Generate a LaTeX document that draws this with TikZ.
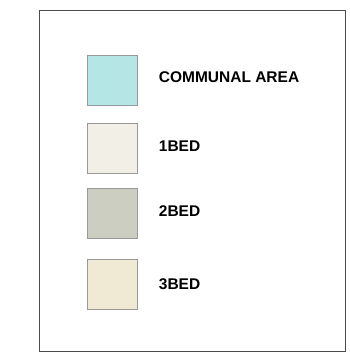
\documentclass[tikz,border=0pt]{standalone}
\usepackage{fontspec}
\setmainfont{Liberation Sans}
\definecolor{commc}{HTML}{B5E6E6}
\definecolor{onec}{HTML}{F2F0E6}
\definecolor{twoc}{HTML}{CDCEC2}
\definecolor{threec}{HTML}{F0EAD4}
\begin{document}
\begin{tikzpicture}[x=1pt,y=-1pt,
  swatch/.style={draw=black!40, line width=0.8pt, minimum width=49.5pt, minimum height=49.5pt, inner sep=0pt, anchor=north west},
  lbl/.style={anchor=west, inner sep=0pt, font=\fontsize{15.5}{18}\selectfont\bfseries}]
\useasboundingbox (0,0) rectangle (350,360);
\draw[black!70, line width=0.9pt] (39.5,10.8) rectangle (345.3,351);
\node[swatch, fill=commc] (s1) at (87.5,55) {};
\node[swatch, fill=onec] (s2) at (87.5,123) {};
\node[swatch, fill=twoc] (s3) at (87.5,188) {};
\node[swatch, fill=threec] (s4) at (87.5,259) {};
\node[lbl] (t1) at (158.7,76.7) {COMMUNAL AREA};
\node[lbl] (t2) at (158.7,146) {1BED};
\node[lbl] (t3) at (158.7,210.7) {2BED};
\node[lbl] (t4) at (158.7,283.7) {3BED};
\end{tikzpicture}
\end{document}
